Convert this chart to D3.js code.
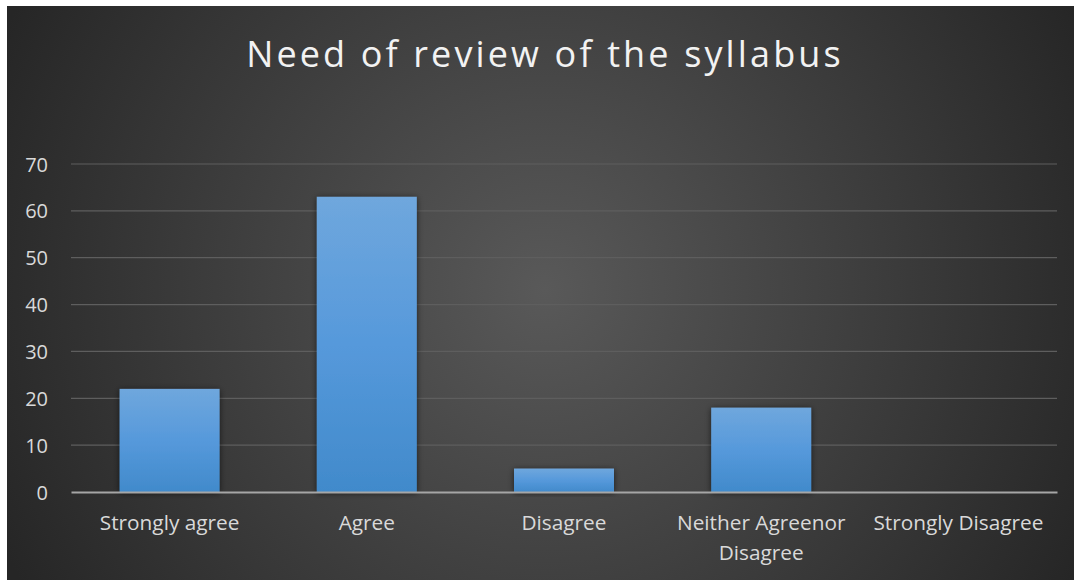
<!DOCTYPE html>
<html><head><meta charset="utf-8">
<script src="https://cdn.jsdelivr.net/npm/d3@7"></script>
<style>html,body{margin:0;padding:0;background:#fff;}svg{display:block;}</style>
</head><body>
<svg id="c" width="1074" height="580"></svg>
<script>
const categories = ["Strongly agree", "Agree", "Disagree", "Neither Agreenor Disagree", "Strongly Disagree"];
const values = [22, 63, 5, 18, 0];
const yTicks = [0, 10, 20, 30, 40, 50, 60, 70];
const title = "Need of review of the syllabus";

const svg = d3.select("#c");
const W = 1074, H = 580;
const defs = svg.append("defs");
const bg = defs.append("radialGradient").attr("id", "bg").attr("gradientUnits", "userSpaceOnUse")
  .attr("cx", 545).attr("cy", 290).attr("r", 600);
bg.append("stop").attr("offset", "0").attr("stop-color", "#595959");
bg.append("stop").attr("offset", "1").attr("stop-color", "#262626");
const bar = defs.append("linearGradient").attr("id", "bar").attr("x1", 0).attr("x2", 0).attr("y1", 0).attr("y2", 1);
bar.append("stop").attr("offset", "0").attr("stop-color", "#6fa7dd");
bar.append("stop").attr("offset", "0.5").attr("stop-color", "#5699db");
bar.append("stop").attr("offset", "1").attr("stop-color", "#418acb");
const sh = defs.append("filter").attr("id", "sh").attr("x", "-20%").attr("y", "-20%").attr("width", "140%").attr("height", "140%");
sh.append("feDropShadow").attr("dx", 0).attr("dy", 1).attr("stdDeviation", 3).attr("flood-color", "#000").attr("flood-opacity", 0.6);

svg.append("rect").attr("x", 7).attr("y", 6).attr("width", W - 7).attr("height", H - 6).attr("fill", "url(#bg)");

const font = "'Open Sans', sans-serif";
const t = svg.append("text").attr("x", 545).attr("y", 67).attr("text-anchor", "middle")
  .attr("fill", "#f2f2f2").attr("font-family", font).attr("font-size", 36)
  .attr("letter-spacing", 1.5).text(title);
const tw = t.node().getComputedTextLength();
t.attr("letter-spacing", 1.5 + (596 - tw) / (title.length - 1));

const x = d3.scaleBand().domain(categories).range([71, 1057]).paddingInner(0.493).paddingOuter(0.2465);
const y = d3.scaleLinear().domain([0, 70]).range([492, 164]);

svg.append("g").selectAll("line").data(yTicks.filter(d => d > 0)).join("line")
  .attr("x1", 71).attr("x2", 1057).attr("y1", d => y(d)).attr("y2", d => y(d))
  .attr("stroke", "#5e5e5e").attr("stroke-width", 1.2);

const yAxis = d3.axisLeft(y).tickValues(yTicks).tickSize(0).tickPadding(0);
const ya = svg.append("g").attr("transform", "translate(48,0)").call(yAxis);
ya.select(".domain").remove();
ya.selectAll("text").attr("fill", "#d9d9d9").attr("font-family", font).attr("font-size", 20)
  .attr("text-anchor", "end").attr("dy", "0.35em");

svg.append("g").selectAll("rect").data(values).join("rect")
  .attr("x", (d, i) => x(categories[i])).attr("width", x.bandwidth())
  .attr("y", d => y(d)).attr("height", d => y(0) - y(d))
  .attr("fill", "url(#bar)").attr("filter", "url(#sh)")
  .style("display", d => d > 0 ? null : "none");

const xAxis = d3.axisBottom(x).tickSize(0).tickPadding(0);
const xa = svg.append("g").attr("transform", "translate(0,492)").call(xAxis);
xa.select(".domain").attr("stroke", "#a6a6a6").attr("stroke-width", 2);
xa.selectAll(".tick text").attr("fill", "#d9d9d9").attr("font-family", font).attr("font-size", 20.8)
  .each(function(d) {
    const s = d3.select(this);
    const parts = d === "Neither Agreenor Disagree" ? ["Neither Agreenor", "Disagree"] : [d];
    s.text(null);
    parts.forEach((p, k) => s.append("tspan").attr("x", 0).attr("y", 38 + k * 29.5).text(p));
  }).attr("dy", null);
</script>
</body></html>
